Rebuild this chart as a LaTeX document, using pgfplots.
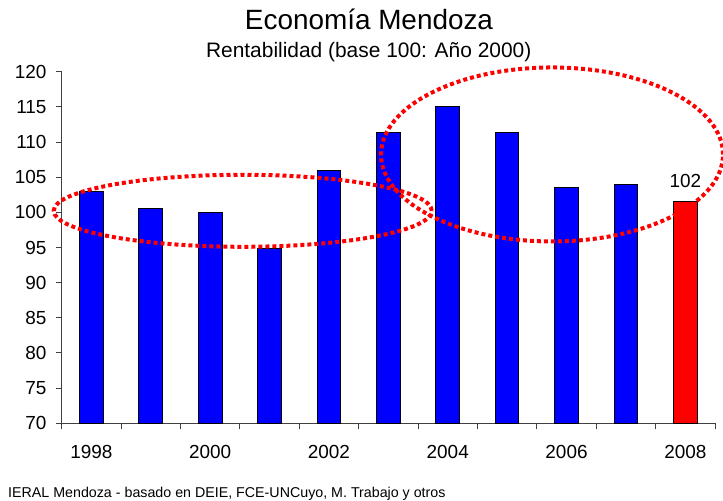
\documentclass[border=0pt]{standalone}
\usepackage{fontspec}
\setmainfont{Liberation Sans}
\usepackage{pgfplots}
\pgfplotsset{compat=1.18}
\begin{document}
\begin{tikzpicture}
\useasboundingbox (-61.7bp,-77.7bp) rectangle (661.3bp,423.3bp);
\begin{axis}[
  at={(0,0)}, anchor=south west,
  scale only axis, width=653.3bp, height=351.6bp,
  xmin=-0.5, xmax=10.5, ymin=70, ymax=120,
  clip=false,
  axis x line*=bottom, axis y line*=left,
  axis line style={black!75, line width=1bp},
  ytick={70,75,...,120},
  xtick={-0.5,0.5,...,10.5}, xticklabels={},
  extra x ticks={0,2,4,6,8,10},
  extra x tick labels={1998,2000,2002,2004,2006,2008},
  extra x tick style={major tick length=0pt},
  tick align=outside, major tick length=6bp,
  tick style={black!75, line width=1bp},
  /pgf/number format/assume math mode=true,
  tick label style={font=\fontsize{19}{22}\selectfont, text=black},
  yticklabel style={anchor=east, inner sep=0pt, xshift=-9bp},
  xticklabel style={anchor=north, inner sep=0pt, yshift=-21.5bp},
]
\addplot[ybar, bar shift=0pt, bar width=23.7bp, fill=blue, draw=black, line width=1bp]
  coordinates {(0,102.9) (1,100.5) (2,100.0) (3,94.9) (4,105.9) (5,111.3) (6,115.1) (7,111.3) (8,103.5) (9,104.0)};
\addplot[ybar, bar shift=0pt, bar width=23.7bp, fill=red, draw=black, line width=1bp,
  nodes near coords={102},
  nodes near coords style={font=\fontsize{19}{22}\selectfont, text=black, inner sep=0pt, anchor=south, yshift=14bp}]
  coordinates {(10,101.5)};
\draw[red, line width=4bp, dash pattern=on 4bp off 3bp] (axis cs:2.548,100.22) ellipse [x radius=189bp, y radius=36bp];
\draw[red, line width=4bp, dash pattern=on 4bp off 3bp] (axis cs:7.756,108.23) ellipse [x radius=171bp, y radius=87bp];
\end{axis}
\node[anchor=base, font=\fontsize{28}{32}\selectfont] at (307.3bp,393.3bp) {Economía Mendoza};
\node[anchor=base, font=\fontsize{21}{25}\selectfont] at (307bp,366bp) {Rentabilidad (base 100: Año 2000)};
\node[anchor=base west, inner sep=0pt, font=\fontsize{14.3}{17}\selectfont] at (-53.7bp,-74.4bp) {IERAL Mendoza - basado en DEIE, FCE-UNCuyo, M. Trabajo y otros};
\end{tikzpicture}
\end{document}
